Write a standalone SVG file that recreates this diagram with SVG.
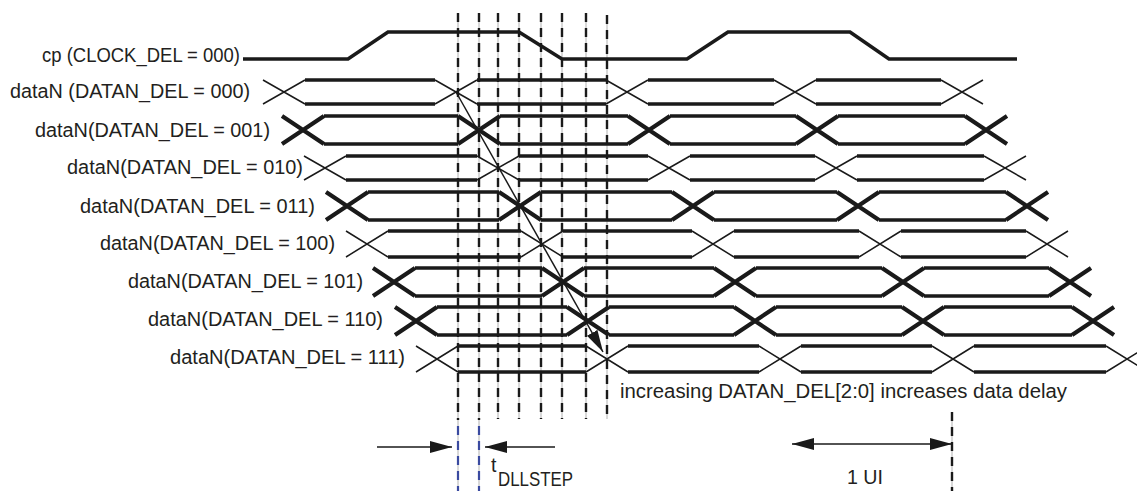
<svg xmlns="http://www.w3.org/2000/svg" width="1137" height="491" viewBox="0 0 1137 491">
<style>
text{font-family:"Liberation Sans",Arial,sans-serif;font-size:19.5px;fill:#231f20}
.lbl{text-anchor:end}
.h{fill:none;stroke:#1a1a1a;stroke-width:3.4;stroke-linecap:butt}
.dt{fill:none;stroke:#1a1a1a;stroke-width:1.5}
.dk{fill:none;stroke:#1a1a1a;stroke-width:4.2}
.clk{fill:none;stroke:#1a1a1a;stroke-width:3.6;stroke-linejoin:miter}
.gr{stroke:#a0a0a0;stroke-width:0.8}
.ds{stroke:#1a1a1a;stroke-width:2.4;stroke-dasharray:9 6}
.dsb{stroke:#3a4aa0;stroke-width:2.2;stroke-dasharray:9 6}
.ar{fill:none;stroke:#1a1a1a;stroke-width:1.5}
</style>
<defs>
<marker id="ah" viewBox="0 0 22 12" refX="22" refY="6" markerWidth="22" markerHeight="12" markerUnits="userSpaceOnUse" orient="auto-start-reverse">
<path d="M0,0 L22,6 L0,12 z" fill="#1a1a1a"/>
</marker>
</defs>

<g id="grid">
<g id="vline-1"><line class="gr" x1="458" y1="13" x2="458" y2="491"/><line class="ds" x1="458" y1="13" x2="458" y2="420"/><line class="dsb" x1="458" y1="426" x2="458" y2="491"/></g>
<g id="vline-2"><line class="gr" x1="479" y1="13" x2="479" y2="491"/><line class="ds" x1="479" y1="13" x2="479" y2="420"/><line class="dsb" x1="479" y1="426" x2="479" y2="491"/></g>
<g id="vline-3"><line class="gr" x1="498" y1="13" x2="498" y2="419"/><line class="ds" x1="498" y1="13" x2="498" y2="419"/></g>
<g id="vline-4"><line class="gr" x1="519" y1="13" x2="519" y2="419"/><line class="ds" x1="519" y1="13" x2="519" y2="419"/></g>
<g id="vline-5"><line class="gr" x1="541" y1="13" x2="541" y2="419"/><line class="ds" x1="541" y1="13" x2="541" y2="419"/></g>
<g id="vline-6"><line class="gr" x1="562" y1="13" x2="562" y2="419"/><line class="ds" x1="562" y1="13" x2="562" y2="419"/></g>
<g id="vline-7"><line class="gr" x1="586" y1="13" x2="586" y2="419"/><line class="ds" x1="586" y1="13" x2="586" y2="419"/></g>
<g id="vline-8"><line class="gr" x1="607" y1="15" x2="607" y2="419"/><line class="ds" x1="607" y1="15" x2="607" y2="419"/></g>
<g id="vline-ui"><line class="gr" x1="952" y1="412" x2="952" y2="491"/><line class="ds" x1="952" y1="412" x2="952" y2="491"/></g>
</g>

<g id="sig-cp">
<text class="lbl" x="240" y="62" textLength="198" lengthAdjust="spacingAndGlyphs">cp (CLOCK_DEL = 000)</text>
<path class="clk" d="M243 59H348L388 32H519L562 59H687L728 32H850L889 59H1017"/>
</g>

<g id="sig-000">
<text class="lbl" x="250" y="98" textLength="240" lengthAdjust="spacingAndGlyphs">dataN (DATAN_DEL = 000)</text>
<path class="h" d="M305 80H435M305 104H435M477 80H606M477 104H606M648 80H774M648 104H774M816 80H941M816 104H941"/>
<path class="dt" d="M263 80L305 104M263 104L305 80M435 80L477 104M435 104L477 80M606 80L648 104M606 104L648 80M774 80L816 104M774 104L816 80M941 80L983 104M941 104L983 80"/>
</g>

<g id="sig-001">
<text class="lbl" x="270" y="137" textLength="235" lengthAdjust="spacingAndGlyphs">dataN(DATAN_DEL = 001)</text>
<path class="h" d="M324 116H458M324 144H458M500 116H628M500 144H628M670 116H796M670 144H796M838 116H965M838 144H965"/>
<path class="dk" d="M282 116L324 144M282 144L324 116M458 116L500 144M458 144L500 116M628 116L670 144M628 144L670 116M796 116L838 144M796 144L838 116M965 116L1007 144M965 144L1007 116"/>
</g>

<g id="sig-010">
<text class="lbl" x="303" y="174" textLength="236" lengthAdjust="spacingAndGlyphs">dataN(DATAN_DEL = 010)</text>
<path class="h" d="M346 156H477M346 180H477M519 156H648M519 180H648M690 156H815M690 180H815M857 156H984M857 180H984"/>
<path class="dt" d="M304 156L346 180M304 180L346 156M477 156L519 180M477 180L519 156M648 156L690 180M648 180L690 156M815 156L857 180M815 180L857 156M984 156L1026 180M984 180L1026 156"/>
</g>

<g id="sig-011">
<text class="lbl" x="315" y="213" textLength="235" lengthAdjust="spacingAndGlyphs">dataN(DATAN_DEL = 011)</text>
<path class="h" d="M368 192H499M368 220H499M541 192H672M541 220H672M714 192H837M714 220H837M879 192H1006M879 220H1006"/>
<path class="dk" d="M326 192L368 220M326 220L368 192M499 192L541 220M499 220L541 192M672 192L714 220M672 220L714 192M837 192L879 220M837 220L879 192M1006 192L1048 220M1006 220L1048 192"/>
</g>

<g id="sig-100">
<text class="lbl" x="335" y="250" textLength="235" lengthAdjust="spacingAndGlyphs">dataN(DATAN_DEL = 100)</text>
<path class="h" d="M388 231H521M388 257H521M563 231H692M563 257H692M734 231H859M734 257H859M901 231H1026M901 257H1026"/>
<path class="dt" d="M346 231L388 257M346 257L388 231M521 231L563 257M521 257L563 231M692 231L734 257M692 257L734 231M859 231L901 257M859 257L901 231M1026 231L1068 257M1026 257L1068 231"/>
</g>

<g id="sig-101">
<text class="lbl" x="363" y="288" textLength="235" lengthAdjust="spacingAndGlyphs">dataN(DATAN_DEL = 101)</text>
<path class="h" d="M415 268H542M415 296H542M584 268H714M584 296H714M756 268H882M756 296H882M924 268H1049M924 296H1049"/>
<path class="dk" d="M373 268L415 296M373 296L415 268M542 268L584 296M542 296L584 268M714 268L756 296M714 296L756 268M882 268L924 296M882 296L924 268M1049 268L1091 296M1049 296L1091 268"/>
</g>

<g id="sig-110">
<text class="lbl" x="383" y="326" textLength="235" lengthAdjust="spacingAndGlyphs">dataN(DATAN_DEL = 110)</text>
<path class="h" d="M437 307H567M437 335H567M609 307H734M609 335H734M776 307H902M776 335H902M944 307H1072M944 335H1072"/>
<path class="dk" d="M395 307L437 335M395 335L437 307M567 307L609 335M567 335L609 307M734 307L776 335M734 335L776 307M902 307L944 335M902 335L944 307M1072 307L1114 335M1072 335L1114 307"/>
</g>

<g id="sig-111">
<text class="lbl" x="405" y="364" textLength="235" lengthAdjust="spacingAndGlyphs">dataN(DATAN_DEL = 111)</text>
<path class="h" d="M458 346H586M458 372H586M628 346H759M628 372H759M801 346H932M801 372H932M974 346H1106M974 372H1106"/>
<path class="dt" d="M416 346L458 372M416 372L458 346M586 346L628 372M586 372L628 346M759 346L801 372M759 372L801 346M932 346L974 372M932 372L974 346M1106 346L1148 372M1106 372L1148 346"/>
</g>

<g id="connectors">
<line class="ar" x1="456" y1="92" x2="603" y2="352" marker-end="url(#ah)"/>
<line class="ar" x1="377" y1="447" x2="452" y2="447" marker-end="url(#ah)"/>
<line class="ar" x1="555" y1="447" x2="485" y2="447" marker-end="url(#ah)"/>
<line class="ar" x1="792" y1="444" x2="952" y2="444" marker-start="url(#ah)" marker-end="url(#ah)"/>
</g>

<g id="annotations">
<text x="620" y="398" textLength="447" lengthAdjust="spacingAndGlyphs">increasing DATAN_DEL[2:0] increases data delay</text>
<text x="491" y="472">t</text>
<text x="498" y="486" textLength="75" lengthAdjust="spacingAndGlyphs">DLLSTEP</text>
<text x="847" y="484" textLength="36" lengthAdjust="spacingAndGlyphs">1 UI</text>
</g>
</svg>
